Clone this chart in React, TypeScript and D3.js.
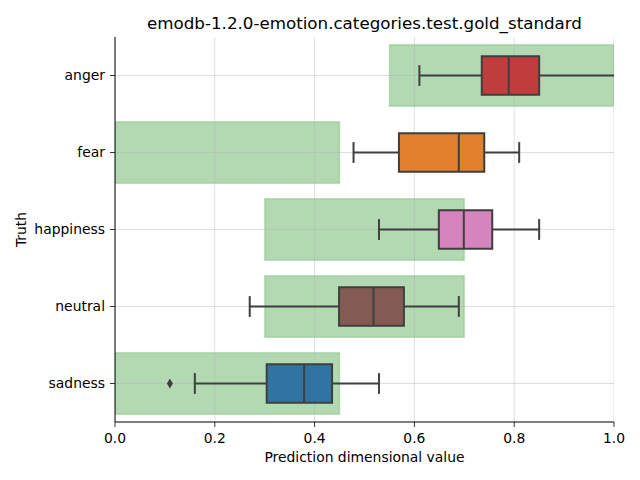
import React from "react";
import * as d3 from "d3";

const categories = ["anger", "fear", "happiness", "neutral", "sadness"];
const boxColors = ["#c03d3e", "#e1812c", "#d684bd", "#845b53", "#3274a1"];
const truthLow = [0.55, 0.0, 0.3, 0.3, 0.0];
const truthHigh = [1.0, 0.45, 0.7, 0.7, 0.45];
const whiskerLow = [0.61, 0.478, 0.529, 0.27, 0.16];
const q1 = [0.735, 0.569, 0.649, 0.449, 0.304];
const median = [0.789, 0.689, 0.699, 0.518, 0.379];
const q3 = [0.85, 0.74, 0.756, 0.579, 0.435];
const whiskerHigh = [1.03, 0.81, 0.85, 0.689, 0.529];
const outliers: number[][] = [[], [], [], [], [0.11]];
const xTicks = [0, 0.2, 0.4, 0.6, 0.8, 1.0];

const W = 640, H = 480;
const L = 115, R = 614, T = 37, B = 422;
const font = "DejaVu Sans, sans-serif";

export default function App() {
  const x = d3.scaleLinear().domain([0, 1]).range([L, R]);
  const y = d3.scaleLinear().domain([-0.5, categories.length - 0.5]).range([T, B]);
  const unit = y(1) - y(0);
  const edge = "#3f3f3f";
  return (
    <svg width={W} height={H} style={{ position: "absolute", left: 0, top: 0 }} fontFamily={font}>
      <defs>
        <clipPath id="plot">
          <rect x={L} y={T} width={R - L} height={B - T} />
        </clipPath>
      </defs>
      <rect x={0} y={0} width={W} height={H} fill="white" />
      <g clipPath="url(#plot)">
        {/* truth spans */}
        {categories.map((c, i) => (
          <rect key={"g" + c} x={x(truthLow[i])} y={y(i - 0.4)} width={x(truthHigh[i]) - x(truthLow[i])} height={unit * 0.8}
            fill="rgba(0,128,0,0.3)" stroke="rgba(0,128,0,0.18)" strokeWidth={1.5} />
        ))}
        {/* grid */}
        {xTicks.map(t => (
          <line key={"gx" + t} x1={x(t)} x2={x(t)} y1={T} y2={B} stroke="#b0b0b0" strokeOpacity={0.5} strokeWidth={0.8} />
        ))}
        {categories.map((c, i) => (
          <line key={"gy" + c} x1={L} x2={R} y1={y(i)} y2={y(i)} stroke="#b0b0b0" strokeOpacity={0.5} strokeWidth={0.8} />
        ))}
        {/* boxes */}
        {categories.map((c, i) => {
          const cy = y(i);
          const bh = unit * 0.5;
          const cap = unit * 0.135;
          return (
            <g key={"b" + c} stroke={edge} strokeWidth={2} fill="none">
              <line x1={x(whiskerLow[i])} x2={x(q1[i])} y1={cy} y2={cy} />
              <line x1={x(q3[i])} x2={x(whiskerHigh[i])} y1={cy} y2={cy} />
              <line x1={x(whiskerLow[i])} x2={x(whiskerLow[i])} y1={cy - cap} y2={cy + cap} />
              <line x1={x(whiskerHigh[i])} x2={x(whiskerHigh[i])} y1={cy - cap} y2={cy + cap} />
              <rect x={x(q1[i])} y={cy - bh / 2} width={x(q3[i]) - x(q1[i])} height={bh} fill={boxColors[i]} />
              <line x1={x(median[i])} x2={x(median[i])} y1={cy - bh / 2} y2={cy + bh / 2} />
              {outliers[i].map((o, k) => (
                <path key={k} d={`M${x(o)},${cy - 5} L${x(o) + 3},${cy} L${x(o)},${cy + 5} L${x(o) - 3},${cy} Z`} fill={edge} stroke="none" />
              ))}
            </g>
          );
        })}
      </g>
      {/* spines */}
      <line x1={L} x2={L} y1={T} y2={B} stroke="black" strokeWidth={1} />
      <line x1={L} x2={R} y1={B} y2={B} stroke="black" strokeWidth={1} />
      {/* x ticks */}
      {xTicks.map(t => (
        <g key={"xt" + t}>
          <line x1={x(t)} x2={x(t)} y1={B} y2={B + 5} stroke="black" strokeWidth={0.8} />
          <text x={x(t)} y={B + 21} textAnchor="middle" fontSize={13.9}>{t.toFixed(1)}</text>
        </g>
      ))}
      {/* y ticks */}
      {categories.map((c, i) => (
        <g key={"yt" + c}>
          <line x1={L - 5} x2={L} y1={y(i)} y2={y(i)} stroke="black" strokeWidth={0.8} />
          <text x={L - 10} y={y(i)} dy="0.35em" textAnchor="end" fontSize={13.9}>{c}</text>
        </g>
      ))}
      <text x={(L + R) / 2} y={462} textAnchor="middle" fontSize={13.9}>Prediction dimensional value</text>
      <text transform={`translate(26,${(T + B) / 2}) rotate(-90)`} textAnchor="middle" fontSize={13.9}>Truth</text>
      <text x={(L + R) / 2} y={29} textAnchor="middle" fontSize={16.7}>emodb-1.2.0-emotion.categories.test.gold_standard</text>
    </svg>
  );
}
